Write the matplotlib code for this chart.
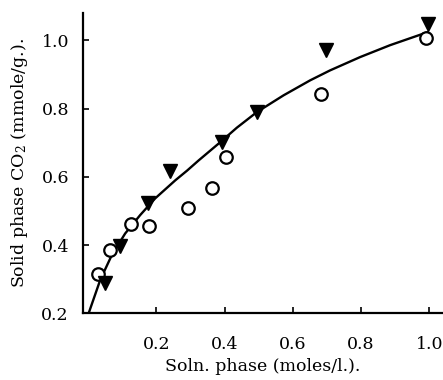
import matplotlib
matplotlib.use('Agg')
import matplotlib.pyplot as plt

# open circles
circle_x = [0.029, 0.065, 0.127, 0.180, 0.293, 0.364, 0.403, 0.683, 0.991]
circle_y = [0.315, 0.387, 0.461, 0.457, 0.510, 0.566, 0.659, 0.842, 1.007]

# filled down triangles
tri_x = [0.049, 0.093, 0.177, 0.241, 0.392, 0.495, 0.697, 0.997]
tri_y = [0.288, 0.397, 0.522, 0.618, 0.702, 0.790, 0.973, 1.049]

# fitted curve
curve_x = [0.002, 0.036, 0.070, 0.109, 0.153, 0.197, 0.256, 0.290, 0.324, 0.388,
           0.436, 0.495, 0.573, 0.651, 0.709, 0.797, 0.885, 0.983, 0.995]
curve_y = [0.200, 0.298, 0.371, 0.434, 0.488, 0.537, 0.590, 0.618, 0.648, 0.702,
           0.744, 0.790, 0.839, 0.883, 0.912, 0.951, 0.986, 1.020, 1.024]

xticks = [0.2, 0.4, 0.6, 0.8, 1.0]
yticks = [0.2, 0.4, 0.6, 0.8, 1.0]

plt.rcParams['font.family'] = ['DejaVu Serif']
plt.rcParams['mathtext.fontset'] = 'dejavuserif'

fig = plt.figure(figsize=(4.43, 3.8), dpi=100)
ax = fig.add_axes([0.187, 0.1755, 0.813, 0.79])

ax.plot(curve_x, curve_y, color='black', lw=1.7, zorder=2)
ax.plot(circle_x, circle_y, 'o', ms=9, mfc='white', mec='black', mew=1.6, zorder=3)
ax.plot(tri_x, tri_y, 'v', ms=10, color='black', zorder=4)

ax.set_xlim(-0.015, 1.04)
ax.set_ylim(0.2, 1.08)
ax.set_xticks(xticks)
ax.set_yticks(yticks)
ax.set_xticklabels(['%.1f' % t for t in xticks])
ax.set_yticklabels(['%.1f' % t for t in yticks])

for s in ['top', 'right']:
    ax.spines[s].set_visible(False)
for s in ['left', 'bottom']:
    ax.spines[s].set_linewidth(1.6)
ax.tick_params(direction='in', length=4, width=1.2, labelsize=12.5)
ax.tick_params(axis='x', pad=16)
ax.tick_params(axis='y', pad=10)

ax.set_xlabel('Soln. phase (moles/l.).', fontsize=12.5, labelpad=4)
ax.set_ylabel('Solid phase CO$_2$ (mmole/g.).', fontsize=12.5, labelpad=8)

fig.savefig('out.png', dpi=100, facecolor='white')
